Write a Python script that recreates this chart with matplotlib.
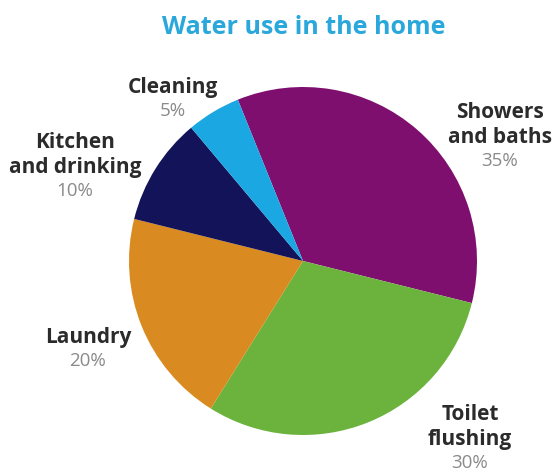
import matplotlib
matplotlib.use("Agg")
import matplotlib.pyplot as plt

categories = ["Showers\nand baths", "Toilet\nflushing", "Laundry", "Kitchen\nand drinking", "Cleaning"]
values = [35, 30, 20, 10, 5]
colors = ["#7E0F6F", "#6CB33E", "#D98A20", "#13135A", "#1BA7E1"]
title = "Water use in the home"

W, H = 553, 477
fig = plt.figure(figsize=(W / 100, H / 100), dpi=100)
cx, cy, r = 303, 262, 174
ax = fig.add_axes([(cx - r) / W, 1 - (cy + r) / H, 2 * r / W, 2 * r / H])
ax.pie(values, colors=colors, startangle=112, counterclock=False, radius=1,
       wedgeprops=dict(linewidth=0))
ax.set_xlim(-1, 1)
ax.set_ylim(-1, 1)
ax.set_aspect("equal")
ax.axis("off")

font = "Open Sans"
fig.text(304 / W, 1 - 28 / H, title, ha="center", va="center", fontsize=18,
         fontweight="bold", color="#2AA8DC", family=font)

# label anchor positions in pixels (name top line center, percentage)
label_pos = [(500, 113), (470, 415), (88, 338), (75, 143), (173, 88)]
line = 24.5
for name, val, (px, py) in zip(categories, values, label_pos):
    lines = name.split("\n")
    for i, ln in enumerate(lines):
        fig.text(px / W, 1 - (py + i * line) / H, ln, ha="center", va="center",
                 fontsize=15, fontweight="bold", color="#2B2B2B", family=font)
    fig.text(px / W, 1 - (py + len(lines) * line - 1) / H, f"{val}%", ha="center",
             va="center", fontsize=13.5, color="#8A8A8A", family=font)

fig.savefig("out.png", dpi=100, facecolor="white")
